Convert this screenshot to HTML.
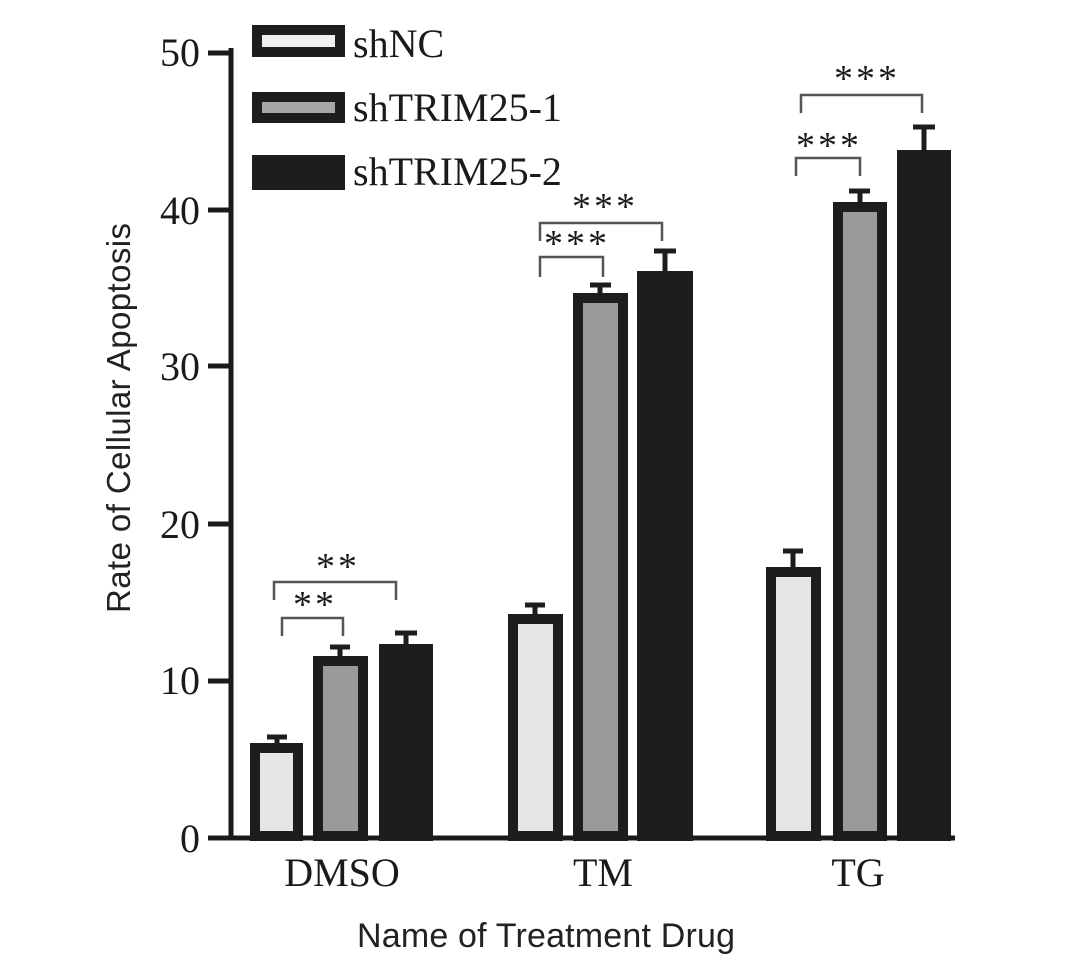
<!DOCTYPE html>
<html><head><meta charset="utf-8"><style>body{margin:0;background:#fff}svg{display:block}</style></head>
<body>
<svg width="1086" height="980" viewBox="0 0 1086 980" xmlns="http://www.w3.org/2000/svg">
<rect width="1086" height="980" fill="#fff"/>
<g font-family="Liberation Serif, serif" font-size="40" fill="#1a1a1a" text-anchor="end">
<text x="200" y="66">50</text><text x="200" y="224">40</text><text x="200" y="380">30</text>
<text x="200" y="538">20</text><text x="200" y="694">10</text><text x="200" y="852">0</text>
</g>
<g stroke="#1a1a1a" stroke-width="5">
<line x1="231" y1="48" x2="231" y2="840"/>
<line x1="208" y1="838" x2="955" y2="838"/>
<line x1="208" y1="53" x2="231" y2="53"/><line x1="208" y1="210" x2="231" y2="210"/>
<line x1="208" y1="366" x2="231" y2="366"/><line x1="208" y1="524" x2="231" y2="524"/>
<line x1="208" y1="681" x2="231" y2="681"/>
</g>
<g stroke="#1e1c1d" stroke-width="10">
<rect x="255" y="748" width="43" height="88" fill="#e6e6e6"/>
<rect x="318" y="661" width="45" height="175" fill="#9a9a9a"/>
<rect x="384" y="649" width="44" height="187" fill="#1e1c1d"/>
<rect x="513" y="619" width="45" height="217" fill="#e6e6e6"/>
<rect x="578" y="298" width="45" height="538" fill="#9a9a9a"/>
<rect x="642" y="276" width="46" height="560" fill="#1e1c1d"/>
<rect x="771" y="572" width="45" height="264" fill="#e6e6e6"/>
<rect x="838" y="207" width="44" height="629" fill="#9a9a9a"/>
<rect x="902" y="155" width="44" height="681" fill="#1e1c1d"/>
</g>
<g stroke="#1e1c1d" stroke-width="5">
<line x1="277" y1="736" x2="277" y2="745"/><line x1="267" y1="737" x2="287" y2="737"/>
<line x1="340" y1="646" x2="340" y2="658"/><line x1="330" y1="647" x2="350" y2="647"/>
<line x1="406" y1="632" x2="406" y2="646"/><line x1="395" y1="633" x2="417" y2="633"/>
<line x1="535" y1="604" x2="535" y2="616"/><line x1="525" y1="605" x2="545" y2="605"/>
<line x1="600" y1="284" x2="600" y2="295"/><line x1="590" y1="285" x2="611" y2="285"/>
<line x1="665" y1="250" x2="665" y2="273"/><line x1="654" y1="251" x2="676" y2="251"/>
<line x1="793" y1="550" x2="793" y2="569"/><line x1="783" y1="551" x2="803" y2="551"/>
<line x1="860" y1="190" x2="860" y2="204"/><line x1="849" y1="191" x2="870" y2="191"/>
<line x1="924" y1="126" x2="924" y2="152"/><line x1="913" y1="127" x2="935" y2="127"/>
</g>
<g stroke="#555" stroke-width="2.5" fill="none">
<polyline points="274,600 274,582 396,582 396,600"/>
<polyline points="282,636 282,618 343,618 343,636"/>
<polyline points="540,241 540,223 662,223 662,241"/>
<polyline points="540,277 540,257 603,257 603,277"/>
<polyline points="801,113 801,95 922,95 922,113"/>
<polyline points="796,176 796,158 860,158 860,176"/>
</g>
<g font-family="Liberation Serif, serif" font-size="38" fill="#1a1a1a" text-anchor="middle" letter-spacing="3">
<text x="338" y="579">**</text><text x="315" y="617">**</text>
<text x="605" y="219">***</text><text x="577" y="256">***</text>
<text x="867" y="91">***</text><text x="829" y="158">***</text>
</g>
<g stroke="#1e1c1d" stroke-width="10">
<rect x="257" y="30" width="83" height="22" fill="#efefef"/>
<rect x="257" y="97" width="83" height="21" fill="#a6a6a6"/>
<rect x="257" y="160" width="83" height="25" fill="#1e1c1d"/>
</g>
<g font-family="Liberation Serif, serif" font-size="40" fill="#1a1a1a">
<text x="353" y="57">shNC</text><text x="353" y="121">shTRIM25-1</text><text x="353" y="185">shTRIM25-2</text>
</g>
<g font-family="Liberation Serif, serif" font-size="40" fill="#1a1a1a" text-anchor="middle">
<text x="342" y="886">DMSO</text><text x="603" y="886">TM</text><text x="858" y="886">TG</text>
</g>
<text x="546" y="947" font-family="Liberation Sans, sans-serif" font-size="34" fill="#222" text-anchor="middle" textLength="378">Name of Treatment Drug</text>
<text transform="translate(130,418) rotate(-90)" font-family="Liberation Sans, sans-serif" font-size="33" fill="#222" text-anchor="middle" textLength="390">Rate of Cellular Apoptosis</text>
</svg>
</body></html>
